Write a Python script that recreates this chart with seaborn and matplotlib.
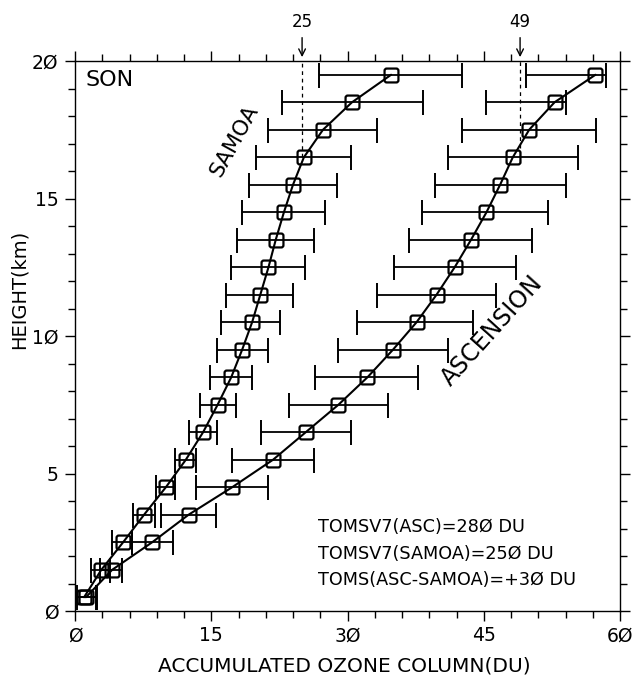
import numpy as np
import pandas as pd
import matplotlib
matplotlib.use("Agg")
import matplotlib.pyplot as plt
from matplotlib.path import Path
import seaborn as sns

# ---- data ----
heights = [0.5, 1.5, 2.5, 3.5, 4.5, 5.5, 6.5, 7.5, 8.5, 9.5,
           10.5, 11.5, 12.5, 13.5, 14.5, 15.5, 16.5, 17.5, 18.5, 19.5]

samoa = [1.0, 2.9, 5.3, 7.6, 10.0, 12.2, 14.1, 15.7, 17.2, 18.4,
         19.5, 20.4, 21.3, 22.1, 23.0, 24.0, 25.2, 27.3, 30.5, 34.8]
samoa_lo = [0.0, 1.8, 4.1, 6.4, 8.9, 11.0, 12.5, 13.8, 14.9, 15.6,
            16.1, 16.6, 17.2, 17.8, 18.4, 19.2, 19.9, 21.2, 22.8, 26.9]
samoa_hi = [2.3, 3.9, 6.3, 8.8, 11.0, 13.3, 15.6, 17.7, 19.5, 21.2,
            22.6, 24.0, 25.3, 26.3, 27.5, 28.8, 30.4, 33.3, 38.3, 42.6]

asc = [1.2, 4.1, 8.5, 12.5, 17.3, 21.8, 25.4, 29.0, 32.2, 35.0,
       37.6, 39.8, 41.8, 43.6, 45.3, 46.8, 48.2, 50.0, 52.8, 57.3]
asc_lo = [0.2, 2.8, 6.3, 9.5, 13.3, 17.3, 20.5, 23.6, 26.4, 29.0,
          31.1, 33.3, 35.1, 36.8, 38.2, 39.6, 41.1, 42.6, 45.3, 49.6]
asc_hi = [2.4, 5.2, 10.8, 15.5, 21.2, 26.3, 30.4, 34.5, 37.8, 41.1,
          43.8, 46.4, 48.5, 50.3, 52.1, 54.0, 55.4, 57.4, 54.0, 58.5]

xticks = [0, 15, 30, 45, 60]
xticklabels = ["Ø", "15", "3Ø", "45", "6Ø"]
yticks = [0, 5, 10, 15, 20]
yticklabels = ["Ø", "5", "1Ø", "15", "2Ø"]

toms_lines = ["TOMSV7(ASC)=28Ø DU", "TOMSV7(SAMOA)=25Ø DU", "TOMS(ASC-SAMOA)=+3Ø DU"]
marks = [(25, "25", 16.5), (49, "49", 16.3)]

# ---- rounded-square marker ----
def rounded_square(r=0.3):
    k = 0.5523 * r
    verts = [(-1 + r, -1), (1 - r, -1),
             (1 - r + k, -1), (1, -1 + r - k), (1, -1 + r),
             (1, 1 - r),
             (1, 1 - r + k), (1 - r + k, 1), (1 - r, 1),
             (-1 + r, 1),
             (-1 + r - k, 1), (-1, 1 - r + k), (-1, 1 - r),
             (-1, -1 + r),
             (-1, -1 + r - k), (-1 + r - k, -1), (-1 + r, -1),
             (-1 + r, -1)]
    codes = [Path.MOVETO, Path.LINETO,
             Path.CURVE4, Path.CURVE4, Path.CURVE4,
             Path.LINETO,
             Path.CURVE4, Path.CURVE4, Path.CURVE4,
             Path.LINETO,
             Path.CURVE4, Path.CURVE4, Path.CURVE4,
             Path.LINETO,
             Path.CURVE4, Path.CURVE4, Path.CURVE4,
             Path.CLOSEPOLY]
    return Path(verts, codes)

# ---- figure ----
sns.set_theme(style="ticks")
plt.rcParams["font.family"] = ["DejaVu Sans"]
plt.rcParams["text.color"] = "black"
plt.rcParams["axes.labelcolor"] = "black"
plt.rcParams["xtick.color"] = "black"
plt.rcParams["ytick.color"] = "black"

fig = plt.figure(figsize=(6.34, 6.80), dpi=100)
ax = fig.add_axes([75 / 634, 69 / 680, 545 / 634, 550 / 680])

df = pd.DataFrame({
    "height": heights * 2,
    "ozone": samoa + asc,
    "site": ["SAMOA"] * len(heights) + ["ASCENSION"] * len(heights),
})

for site, vals, lo, hi in [("SAMOA", samoa, samoa_lo, samoa_hi),
                           ("ASCENSION", asc, asc_lo, asc_hi)]:
    v = np.array(vals)
    xerr = np.vstack([v - np.array(lo), np.array(hi) - v])
    ax.errorbar(v, heights, xerr=xerr, fmt="none", ecolor="black",
                elinewidth=1.3, capsize=9, capthick=1.4, zorder=2)

sns.lineplot(data=df, x="ozone", y="height", hue="site", units="site",
             estimator=None, sort=False, orient="y",
             palette={"SAMOA": "black", "ASCENSION": "black"},
             marker=rounded_square(), markersize=10, markerfacecolor="none",
             markeredgecolor="black", markeredgewidth=1.6,
             linewidth=1.5, legend=False, ax=ax, zorder=3)

ax.set_xlim(0, 60)
ax.set_ylim(0, 20)
ax.set_xticks(xticks)
ax.set_xticklabels(xticklabels)
ax.set_yticks(yticks)
ax.set_yticklabels(yticklabels)
ax.set_xticks(np.arange(0, 61, 3), minor=True)
ax.set_yticks(np.arange(0, 21, 1), minor=True)
ax.tick_params(axis="both", which="major", direction="out", length=7,
               width=1.0, labelsize=13.5, top=True, right=True, pad=5,
               colors="black")
ax.tick_params(axis="both", which="minor", direction="out", length=5,
               width=1.0, top=True, right=True)
ax.tick_params(axis="x", which="major", pad=4)
for s in ax.spines.values():
    s.set_linewidth(1.0)
    s.set_color("black")

ax.set_xlabel("ACCUMULATED OZONE COLUMN(DU)", fontsize=14.5)
ax.xaxis.set_label_coords(0.494, -0.083)
ax.set_ylabel("HEIGHT(km)", fontsize=14)
ax.yaxis.set_label_coords(-0.085, 0.584)

# dashed markers and arrows at top
for xv, lab, ybot in marks:
    ax.plot([xv, xv], [ybot, 20], ls=(0, (3, 3)), color="black", lw=0.9, zorder=1)
    ax.annotate("", xy=(xv, 20.04), xytext=(xv, 20.95), xycoords="data",
                arrowprops=dict(arrowstyle="->", color="black", lw=1.0),
                annotation_clip=False)
    ax.text(xv, 21.42, lab, ha="center", va="center", fontsize=12,
            clip_on=False)

ax.text(1.2, 19.3, "SON", fontsize=16, ha="left", va="center")
ax.text(17.6, 17.1, "SAMOA", fontsize=15.5, rotation=61, ha="center", va="center")
ax.text(45.9, 10.2, "ASCENSION", fontsize=17, rotation=48, ha="center", va="center")

for i, t in enumerate(toms_lines):
    ax.text(26.8, 3.05 - i * 0.96, t, fontsize=12.7, ha="left", va="center")

fig.savefig("out.png", dpi=100)
